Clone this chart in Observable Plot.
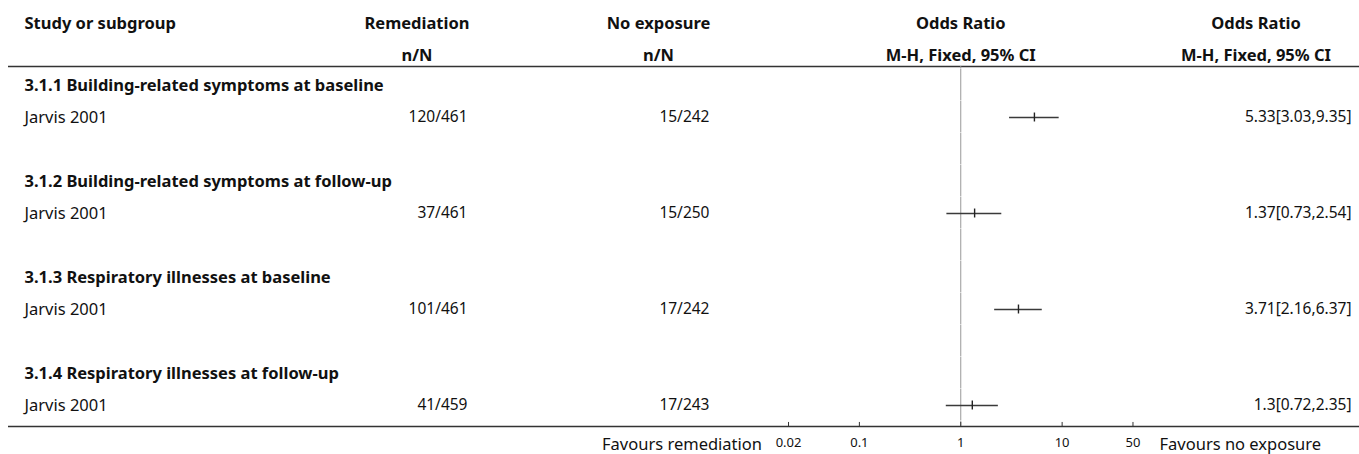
<!DOCTYPE html>
<html>
<head>
<meta charset="utf-8">
<script src="https://cdn.jsdelivr.net/npm/d3@7"></script>
<script src="https://cdn.jsdelivr.net/npm/@observablehq/plot@0.6"></script>
<style>
  html, body { margin: 0; padding: 0; background: #fff; }
  #chart svg { display: block; }
</style>
</head>
<body>
<div id="chart"></div>
<script>
// Analysis 3: remediation vs no exposure, one study per subgroup
const subgroups = [
  "3.1.1 Building-related symptoms at baseline",
  "3.1.2 Building-related symptoms at follow-up",
  "3.1.3 Respiratory illnesses at baseline",
  "3.1.4 Respiratory illnesses at follow-up"
];
const studies = ["Jarvis 2001", "Jarvis 2001", "Jarvis 2001", "Jarvis 2001"];
const remediationEvents = [120, 37, 101, 41];
const remediationTotal = [461, 461, 461, 459];
const noExposureEvents = [15, 15, 17, 17];
const noExposureTotal = [242, 250, 242, 243];
const oddsRatio = [5.33, 1.37, 3.71, 1.3];
const ciLower = [3.03, 0.73, 2.16, 0.72];
const ciUpper = [9.35, 2.54, 6.37, 2.35];

const columnTitles = ["Study or subgroup", "Remediation", "No exposure", "Odds Ratio", "Odds Ratio"];
const columnSubtitles = ["", "n/N", "n/N", "M-H, Fixed, 95% CI", "M-H, Fixed, 95% CI"];
const axisTicks = [0.02, 0.1, 1, 10, 50];
const favoursLeft = "Favours remediation";
const favoursRight = "Favours no exposure";

// Each subgroup takes three rows: heading, study, blank spacer
const headingRows = subgroups.map((label, i) => ({row: 3 * i, label}));
const studyRows = studies.map((study, i) => ({
  row: 3 * i + 1,
  study,
  rem: `${remediationEvents[i]}/${remediationTotal[i]}`,
  none: `${noExposureEvents[i]}/${noExposureTotal[i]}`,
  or: oddsRatio[i],
  lo: ciLower[i],
  hi: ciUpper[i],
  label: `${oddsRatio[i]}[${ciLower[i]},${ciUpper[i]}]`
}));

const lastRow = 3 * (subgroups.length - 1) + 1;
const titleRow = -1.93;
const subtitleRow = -0.94;
const headerLineRow = -0.59;
const axisRow = lastRow + 0.66;
const tickLabelRow = axisRow + 0.5;
const favoursRow = axisRow + 0.55;

// Line of no effect, drawn one row at a time
const nullSegments = d3.range(-1, lastRow + 2).map(i => ({
  y1: Math.max(i - 0.5, headerLineRow),
  y2: Math.min(i + 0.5, axisRow)
}));

const ink = "#111";
const bold = {fontWeight: "bold"};
const numeric = {fontSize: 15.5};

const chart = Plot.plot({
  width: 1359,
  height: 454,
  margin: 0,
  x: {type: "log", domain: [0.01, 100], range: [757.5, 1163], axis: null},
  y: {domain: [0, lastRow], range: [85, 405], axis: null},
  style: {fontFamily: "'Noto Sans', sans-serif", fontSize: "16.5px", color: ink, background: "#fff"},
  marks: [
    // column headers
    Plot.text([columnTitles[0]], {y: () => titleRow, text: d => d, frameAnchor: "left", textAnchor: "start", dx: 24, ...bold}),
    Plot.text([columnTitles[1]], {y: () => titleRow, text: d => d, frameAnchor: "left", textAnchor: "middle", dx: 416.5, ...bold}),
    Plot.text([columnSubtitles[1]], {y: () => subtitleRow, text: d => d, frameAnchor: "left", textAnchor: "middle", dx: 416.5, ...bold}),
    Plot.text([columnTitles[2]], {y: () => titleRow, text: d => d, frameAnchor: "left", textAnchor: "middle", dx: 658, ...bold}),
    Plot.text([columnSubtitles[2]], {y: () => subtitleRow, text: d => d, frameAnchor: "left", textAnchor: "middle", dx: 658, ...bold}),
    Plot.text([columnTitles[3]], {x: () => 1, y: () => titleRow, text: d => d, textAnchor: "middle", ...bold}),
    Plot.text([columnSubtitles[3]], {x: () => 1, y: () => subtitleRow, text: d => d, textAnchor: "middle", ...bold}),
    Plot.text([columnTitles[4]], {y: () => titleRow, text: d => d, frameAnchor: "right", textAnchor: "middle", dx: -103.5, ...bold}),
    Plot.text([columnSubtitles[4]], {y: () => subtitleRow, text: d => d, frameAnchor: "right", textAnchor: "middle", dx: -103.5, ...bold}),
    Plot.ruleY([headerLineRow], {y: d => d, insetLeft: 8, stroke: "#333", strokeWidth: 1.5}),

    // line of no effect
    Plot.ruleX(nullSegments, {x: () => 1, y1: "y1", y2: "y2", insetBottom: 0.5, stroke: "#999", strokeWidth: 1}),

    // subgroup headings and study rows
    Plot.text(headingRows, {y: "row", text: "label", frameAnchor: "left", textAnchor: "start", dx: 24, ...bold}),
    Plot.text(studyRows, {y: "row", text: "study", frameAnchor: "left", textAnchor: "start", dx: 24}),
    Plot.text(studyRows, {y: "row", text: "rem", frameAnchor: "left", textAnchor: "end", dx: 467, ...numeric}),
    Plot.text(studyRows, {y: "row", text: "none", frameAnchor: "left", textAnchor: "end", dx: 709, ...numeric}),
    Plot.text(studyRows, {y: "row", text: "label", frameAnchor: "right", textAnchor: "end", dx: -8, ...numeric}),

    // confidence intervals and point estimates
    Plot.ruleY(studyRows, {y: "row", x1: "lo", x2: "hi", stroke: "#3a3a3a", strokeWidth: 1.4}),
    Plot.ruleX(studyRows, {x: "or", y1: d => d.row - 0.14, y2: d => d.row + 0.14, stroke: "#222", strokeWidth: 1.4}),

    // bottom axis
    Plot.ruleY([axisRow], {y: d => d, insetLeft: 8, stroke: "#333", strokeWidth: 1.5}),
    Plot.ruleX(axisTicks, {x: d => d, y1: () => axisRow - 0.13, y2: () => axisRow, stroke: "#333", strokeWidth: 1}),
    Plot.text(axisTicks, {x: d => d, y: () => tickLabelRow, text: d => String(d), fontSize: 13}),
    Plot.text([favoursLeft], {x: () => 0.01, y: () => favoursRow, text: d => d, textAnchor: "end", dx: 4}),
    Plot.text([favoursRight], {x: () => 100, y: () => favoursRow, text: d => d, textAnchor: "start", dx: -4})
  ]
});

document.getElementById("chart").append(chart);
</script>
</body>
</html>
